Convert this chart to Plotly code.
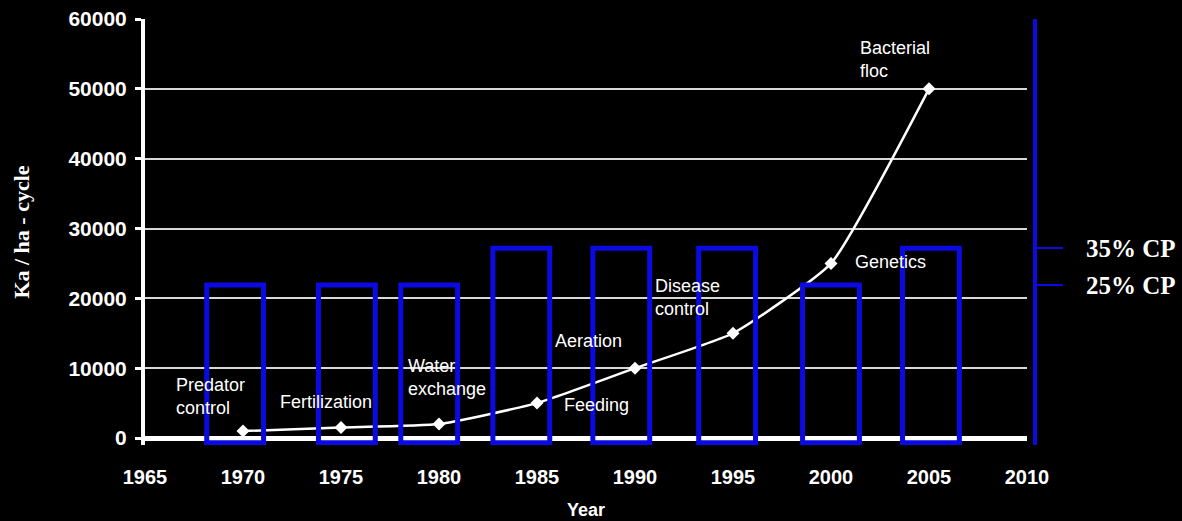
import plotly.graph_objects as go

# ---- data ----
years = [1970, 1975, 1980, 1985, 1990, 1995, 2000, 2005]
yield_kg = [1000, 1500, 2000, 5000, 10000, 15000, 25000, 50000]

bar_year = [1969.6, 1975.3, 1979.5, 1984.2, 1989.3, 1994.7, 2000.0, 2005.1]
bar_cp = [25, 25, 25, 35, 35, 35, 25, 35]

x_ticks = [1965, 1970, 1975, 1980, 1985, 1990, 1995, 2000, 2005, 2010]
y_ticks = [0, 10000, 20000, 30000, 40000, 50000, 60000]
y_labels = ["0", "10000", "20000", "30000", "40000", "50000", "60000"]
cp_ticks = [25, 35]
cp_labels = ["25% CP", "35% CP"]

note_text = ["Predator<br>control", "Fertilization", "Water<br>exchange", "Aeration",
             "Feeding", "Disease<br>control", "Genetics", "Bacterial<br>floc"]
note_x = [1966.5, 1971.8, 1978.3, 1985.8, 1986.3, 1990.9, 2001.1, 2001.4]
note_y = [6000, 5150, 8730, 13900, 4730, 20190, 25200, 54130]

BLUE = "rgb(10,10,225)"
SANS = "Liberation Sans, Arial"
SERIF = "Liberation Serif, Times New Roman"

fig = go.Figure()

fig.add_trace(go.Bar(
    x=bar_year, y=[v - (-17.6) for v in bar_cp], base=-17.6,
    width=2.9, yaxis="y2",
    marker=dict(color="rgba(0,0,0,0)", line=dict(color=BLUE, width=5)),
    showlegend=False, hoverinfo="skip",
))

fig.add_trace(go.Scatter(
    x=years, y=yield_kg, mode="lines+markers",
    line=dict(color="white", width=2.5, shape="spline", smoothing=0.45),
    marker=dict(symbol="diamond", size=10, color="white"),
    showlegend=False,
))

for t, xx, yy in zip(note_text, note_x, note_y):
    fig.add_annotation(x=xx, y=yy, xref="x", yref="y", text=t, showarrow=False,
                       xanchor="left", yanchor="middle", align="left",
                       font=dict(family=SANS, size=18, color="white"))

fig.update_layout(
    width=1182, height=521,
    paper_bgcolor="black", plot_bgcolor="black",
    margin=dict(l=145, r=147, t=19, b=76, autoexpand=False),
    showlegend=False,
    xaxis=dict(
        range=[1965, 2010], domain=[0, 0.991], automargin=False,
        tickvals=x_ticks, showgrid=False, zeroline=False, showline=False,
        ticks="outside", ticklen=14, tickcolor="black",
        tickfont=dict(family=SANS, size=20, color="white", weight="bold"),
        title=dict(text="Year", font=dict(family=SANS, size=18, color="white", weight="bold"), standoff=16),
    ),
    yaxis=dict(
        range=[-1000, 60000], tickvals=y_ticks, ticktext=y_labels, automargin=False,
        showgrid=True, gridcolor="#d8d8d8", gridwidth=2,
        zeroline=True, zerolinecolor="white", zerolinewidth=5,
        showline=True, linecolor="white", linewidth=4,
        ticks="outside", tickcolor="white", ticklen=6, tickwidth=3,
        ticklabelstandoff=4,
        tickfont=dict(family=SANS, size=21, color="white", weight="bold"),
        title=dict(text="Ka / ha - cycle", font=dict(family=SERIF, size=22, color="white", weight="bold"), standoff=34),
    ),
    yaxis2=dict(
        overlaying="y", side="right", anchor="free", position=1.0, automargin=False,
        range=[-18.24, 96.97], tickvals=cp_ticks, ticktext=cp_labels,
        showgrid=False, zeroline=False,
        showline=True, linecolor=BLUE, linewidth=4,
        ticks="outside", tickcolor=BLUE, ticklen=26, tickwidth=2,
        ticklabelstandoff=18,
        tickfont=dict(family=SERIF, size=25, color="white", weight="bold"),
    ),
)

fig.write_html("out.html")
